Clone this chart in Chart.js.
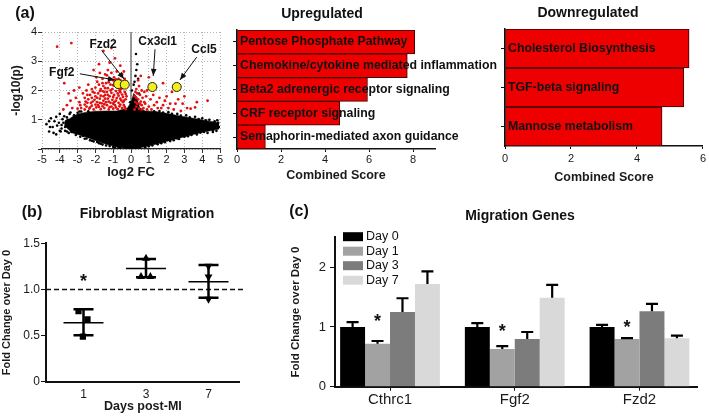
<!DOCTYPE html>
<html>
<head>
<meta charset="utf-8">
<script src="https://cdn.jsdelivr.net/npm/chart.js@4.4.1/dist/chart.umd.min.js"></script>
<style>
  body { margin:0; width:709px; height:416px; position:relative; overflow:hidden; background:#fff; font-family:"Liberation Sans", Arial, sans-serif; }
  canvas { position:absolute; }
  .lab { position:absolute; transform:translate(-50%,-50%); font-weight:bold; white-space:nowrap; color:#111; }
</style>
</head>
<body>
<canvas id="volcano" width="232" height="185" style="left:0;top:0"></canvas>
<canvas id="up" width="280" height="185" style="left:228px;top:0"></canvas>
<canvas id="down" width="229" height="185" style="left:480px;top:0"></canvas>
<canvas id="migration" width="250" height="220" style="left:0;top:196px"></canvas>
<canvas id="genes" width="420" height="220" style="left:289px;top:196px"></canvas>

<div class="lab" style="left:25px;top:13px;font-size:16px">(a)</div>
<div class="lab" style="left:322px;top:13px;font-size:14px">Upregulated</div>
<div class="lab" style="left:588px;top:12px;font-size:14px">Downregulated</div>
<div class="lab" style="left:32px;top:212px;font-size:16px">(b)</div>
<div class="lab" style="left:147px;top:213px;font-size:14px">Fibroblast Migration</div>
<div class="lab" style="left:299px;top:211px;font-size:16px">(c)</div>
<div class="lab" style="left:520px;top:215px;font-size:14px">Migration Genes</div>

<script>
// ---- (a) volcano plot ----
// dense core of the cloud: lower / upper edge at each log2 FC
const envX    = [-3.75, -3.3, -3.0, -2.5, -2.0, -1.4, -0.8, -0.2, 0.0, 0.15, 0.3, 0.5, 0.8, 1.4, 2.0, 2.75, 3.5, 4.25, 4.95];
const envHigh = [0.9, 1.1, 1.2, 1.26, 1.29, 1.3, 1.3, 1.4, 1.6, 1.9, 1.8, 1.4, 1.3, 1.28, 1.22, 1.13, 1.05, 0.97, 0.9];
const envLow  = [0.8, 0.55, 0.5, 0.4, 0.29, 0.16, 0.07, 0.02, 0.0, 0.01, 0.02, 0.04, 0.08, 0.16, 0.26, 0.38, 0.5, 0.6, 0.68];

// genes outside the core, not significant
const greyGenes = [[-4.5,1.05],[-4.6,0.95],[-4.35,0.55],[-4.2,0.5],[-4.15,0.8],[-4.0,1.2],[-3.9,0.7],[-3.8,0.9],
  [-3.75,1.12],[-3.6,0.6],[-3.55,1.0],[-3.5,0.55],[-3.45,1.2],[-3.3,0.78],[-3.2,1.15],[-3.1,0.48],[-3.0,1.24],
  [-2.85,0.42],[-2.8,1.28],[-2.6,0.35],[-2.4,1.29],[-2.3,0.3],[-2.1,0.26],[-1.9,0.24],[-1.7,0.18],[-1.4,0.12],
  [-1.2,0.1],[-0.9,0.05],[-0.6,0.03],[-0.3,0.01],[4.7,0.95],[4.8,0.62],[4.9,0.9],[4.6,0.58],[4.2,0.98],[4.3,0.55],
  [3.8,1.02],[3.7,0.5],[3.3,1.08],[3.2,0.44],[2.8,1.14],[2.7,0.34],[2.3,1.2],[2.2,0.27],[1.8,1.25],[1.7,0.2],
  [1.3,1.29],[1.2,0.12],[0.8,0.06],[0.5,0.03],[0.3,0.01],[0.2,2.3],[0.25,2.5],[0.3,2.7],[0.28,3.25],[0.35,2.9],
  [0.15,2.2],[0.4,2.4],[-0.05,1.6],[0.05,2.0],[0.45,1.9],[-4.4,0.75],[-3.95,0.6],[4.95,0.75],[4.5,0.7],
  [-3.4,1.25],[-3.2,0.65],[-2.9,1.28],[-2.7,0.45],[-2.5,0.36],[-2.2,0.28],[-1.8,0.2],[-1.6,0.15],[-1.0,0.07],
  [-0.7,0.05],[1.0,0.09],[1.5,0.16],[1.9,0.23],[2.4,0.3],[2.6,0.36],[3.0,0.42],[3.4,0.48],[3.9,0.56],[4.1,0.58],
  [4.6,0.64],[4.85,0.98],[4.4,1.0],[4.0,1.05],[3.6,1.1],[3.1,1.15],[2.6,1.2],[2.1,1.26],[1.6,1.3],[-4.2,1.1],
  [-3.9,0.82],[-4.6,0.6],[-4.75,0.85],[-3.7,0.75],[-4.3,0.95],[-4.0,0.62],[-3.65,0.95],[-3.35,0.58],[-4.55,0.75],
  [-3.85,1.02],[-3.6,1.08],[-3.7,0.62],[-4.05,0.9]];

// significant genes (p < 0.05)
const redGenes = [[-2.8,1.4],[-2.6,1.35],[-2.5,1.45],[-2.35,1.38],[-2.2,1.48],[-2.1,1.35],[-1.95,1.42],[-1.85,1.5],
  [-1.7,1.36],[-1.6,1.46],[-1.5,1.4],[-1.35,1.5],[-1.25,1.35],[-1.1,1.45],[-1.0,1.38],[-0.9,1.5],[-0.75,1.36],
  [-0.65,1.46],[-0.5,1.4],[-0.4,1.5],[-0.3,1.36],
  [-2.9,1.6],[-2.55,1.62],[-2.4,1.7],[-2.25,1.58],[-2.05,1.68],[-1.9,1.6],[-1.75,1.72],[-1.65,1.56],[-1.55,1.65],
  [-1.4,1.6],[-1.3,1.72],[-1.15,1.58],[-1.05,1.68],[-0.95,1.6],[-0.8,1.74],[-0.7,1.58],[-0.55,1.66],[-0.45,1.6],[-0.3,1.7],
  [-2.3,1.85],[-2.15,1.95],[-2.0,1.8],[-1.85,1.9],[-1.7,1.82],[-1.6,1.98],[-1.45,1.85],[-1.35,1.95],[-1.2,1.8],
  [-1.1,1.92],[-0.95,1.85],[-0.85,1.98],[-0.7,1.82],[-0.6,1.94],[-0.5,1.86],[-0.35,1.95],[-0.25,1.8],
  [-2.0,2.1],[-1.8,2.2],[-1.7,2.05],[-1.55,2.15],[-1.4,2.25],[-1.3,2.08],[-1.15,2.2],[-1.05,2.05],[-0.9,2.28],
  [-0.8,2.12],[-0.65,2.25],[-0.55,2.05],[-0.3,2.15],[-2.5,2.0],[-2.7,1.9],[-2.4,2.2],
  [-1.6,2.4],[-1.45,2.55],[-1.25,2.4],[-1.1,2.6],[-0.95,2.45],[-0.8,2.65],[-0.7,2.4],[-0.5,2.55],[-0.35,2.4],[-1.3,2.7],
  [-1.2,2.95],[-0.9,3.1],[-0.6,2.85],[-1.55,3.35],[-1.1,3.45],[-2.1,2.7],[-1.8,2.9],
  [-4.15,3.5],[-3.35,3.62],[-3.75,2.25],[-3.6,1.5],[-3.3,1.4],[-3.1,1.75],[-3.8,1.35],[-3.2,2.0],
  [-2.6,1.52],[-2.45,1.58],[-2.3,1.42],[-2.15,1.62],[-2.0,1.52],[-1.8,1.44],[-1.75,1.58],[-1.5,1.53],[-1.45,1.72],
  [-1.25,1.62],[-1.2,1.43],[-1.0,1.55],[-0.85,1.42],[-0.85,1.65],[-0.6,1.52],[-0.6,1.72],[-0.4,1.65],[-0.35,1.43],
  [-2.45,1.85],[-2.2,1.75],[-2.05,1.92],[-1.9,1.75],[-1.75,1.98],[-1.55,1.8],[-1.5,1.95],[-1.3,1.85],[-1.15,2.0],
  [-1.0,1.78],[-0.75,1.9],[-0.65,2.0],[-0.45,1.78],[-0.3,1.88],
  [-2.2,2.05],[-1.9,2.3],[-1.6,2.25],[-1.45,2.08],[-1.25,2.28],[-1.0,2.18],[-0.85,2.38],[-0.7,2.12],[-0.45,2.25],
  [-0.25,2.3],[-1.95,2.45],[-1.75,2.6],[-1.35,2.52],[-1.0,2.35],[-0.6,2.35],[-0.4,2.65],
  [-2.6,1.75],[-2.85,1.5],[-3.0,1.38],[-3.4,1.65],[-3.5,1.9],[-2.9,2.1],
  [0.2,1.35],[0.3,1.45],[0.45,1.38],[0.6,1.5],[0.25,1.6],[0.4,1.7],[0.55,1.62],[0.7,1.4],[0.2,1.8],[0.35,1.9],
  [0.5,1.85],[0.65,1.75],[0.3,2.05],[0.45,2.15],[0.6,2.0],[0.8,1.55],[0.9,1.35],[0.75,1.95],[0.4,2.35],[0.55,2.5],
  [1.0,1.45],[1.1,1.7],[1.3,1.5],[1.5,1.4],[1.6,1.75],[1.8,1.5],[2.0,1.8],[2.1,1.4],[2.3,1.95],[2.5,1.55],
  [1.0,2.45],[1.8,2.25],[3.15,1.4],[3.35,1.38],[3.6,1.42],[4.3,1.65],[2.8,1.3],[0.9,2.0],[1.4,2.1],
  [0.75,1.6],[0.85,1.8],[1.15,1.35],[1.25,1.85],[1.45,1.6],[1.7,1.4],[1.9,1.65],[2.2,1.55],[2.4,1.35],[2.65,1.7],
  [2.9,1.55],[3.0,1.8],[3.7,1.6],[0.3,1.75],[0.5,1.55],[0.25,1.95],[0.6,1.35],[0.35,1.55]];

// highlighted migration genes
const hitGenes = ['Fgf2', 'Fzd2', 'Cx3cl1', 'Ccl5'];
const hitFC    = [-0.72, -0.35, 1.2, 2.57];
const hitP     = [2.22, 2.2, 2.12, 2.12];

// label placement and arrow ends (data units)
const notes = [
  {gene:'Fgf2',   lx:-3.89, ly:2.61, fx:-2.87, fy:2.57, tx:-0.9,  ty:2.36},
  {gene:'Fzd2',   lx:-1.57, ly:3.56, fx:-1.65, fy:3.37, tx:-0.39, ty:2.39},
  {gene:'Cx3cl1', lx:1.5,   ly:3.67, fx:1.35,  fy:3.41, tx:1.25,  ty:2.5},
  {gene:'Ccl5',   lx:4.1,   ly:3.38, fx:3.69,  fy:3.14, tx:2.75,  ty:2.36}
];

// enrichment
const upTerms = ['Pentose Phosphate Pathway', 'Chemokine/cytokine mediated inflammation',
  'Beta2 adrenergic receptor signaling', 'CRF receptor signaling', 'Semaphorin-mediated axon guidance'];
const upScores = [8.08, 7.74, 5.93, 4.67, 1.29];
const downTerms = ['Cholesterol Biosynthesis', 'TGF-beta signaling', 'Mannose metabolism'];
const downScores = [5.58, 5.42, 4.76];

// ---- (b) fibroblast migration ----
const migDays = ['1', '3', '7'];
const migDay1 = [0.766, 0.676, 0.488];
const migDay3 = [1.337, 1.138, 1.138];
const migDay7 = [1.253, 1.138, 0.896];
const jitDay1 = [-0.08, 0.064, -0.01];
const jitDay3 = [0, -0.08, 0.07];
const jitDay7 = [0, 0, 0];
const migMean  = [0.639, 1.228, 1.083];
const migUpper = [0.784, 1.329, 1.264];
const migLower = [0.503, 1.131, 0.91];
const migStarDay = [0];
const migStarY = [1.14];

// ---- (c) migration genes ----
const genes = ['Cthrc1', 'Fgf2', 'Fzd2'];
const dayNames = ['Day 0', 'Day 1', 'Day 3', 'Day 7'];
const geneFold = [
  [1.0, 1.0, 1.0],
  [0.72, 0.63, 0.8],
  [1.25, 0.8, 1.262],
  [1.72, 1.49, 0.81]
];
const geneErr = [
  [0.08, 0.065, 0.035],
  [0.045, 0.05, 0.012],
  [0.23, 0.115, 0.125],
  [0.21, 0.215, 0.045]
];
const geneStarY = [1.17, 1.0, 1.07];

const dayColors = ['#000000', '#a2a2a2', '#7c7c7c', '#d9d9d9'];
const FONT = '"Liberation Sans", Arial, sans-serif';

Chart.defaults.font.family = FONT;
Chart.defaults.color = '#1a1a1a';
Chart.defaults.animation = false;
Chart.defaults.responsive = false;
Chart.defaults.plugins.legend.display = false;
Chart.defaults.plugins.tooltip.enabled = false;

function drawArrow(ctx, x0, y0, x1, y1) {
  const a = Math.atan2(y1 - y0, x1 - x0);
  ctx.beginPath(); ctx.moveTo(x0, y0); ctx.lineTo(x1, y1); ctx.stroke();
  ctx.beginPath();
  ctx.moveTo(x1, y1);
  ctx.lineTo(x1 - 7 * Math.cos(a) + 2.8 * Math.sin(a), y1 - 7 * Math.sin(a) - 2.8 * Math.cos(a));
  ctx.lineTo(x1 - 7 * Math.cos(a) - 2.8 * Math.sin(a), y1 - 7 * Math.sin(a) + 2.8 * Math.cos(a));
  ctx.closePath(); ctx.fill();
}

const volcanoNotes = {
  id: 'volcanoNotes',
  afterDatasetsDraw(chart) {
    const {ctx, scales: {x, y}} = chart;
    ctx.save();
    ctx.fillStyle = '#111'; ctx.strokeStyle = '#111'; ctx.lineWidth = 1;
    notes.forEach(n => {
      drawArrow(ctx, x.getPixelForValue(n.fx), y.getPixelForValue(n.fy), x.getPixelForValue(n.tx), y.getPixelForValue(n.ty));
    });
    ctx.font = 'bold 12px ' + FONT;
    ctx.textAlign = 'center'; ctx.textBaseline = 'middle';
    notes.forEach(n => ctx.fillText(n.gene, x.getPixelForValue(n.lx), y.getPixelForValue(n.ly)));
    ctx.restore();
  }
};

new Chart(document.getElementById('volcano'), {
  type: 'scatter',
  data: {
    datasets: [
      { type: 'line', data: envX.map((v, i) => ({x: v, y: envLow[i]})), borderColor: '#000', borderWidth: 0.5,
        pointRadius: 0, fill: false, order: 8 },
      { type: 'line', data: envX.map((v, i) => ({x: v, y: envHigh[i]})), borderColor: '#000', borderWidth: 0.5,
        pointRadius: 0, fill: '-1', backgroundColor: '#000', order: 7 },
      { data: greyGenes.map(p => ({x: p[0], y: p[1]})), backgroundColor: '#000', pointRadius: 1.3, borderWidth: 0, order: 4 },
      { data: redGenes.map(p => ({x: p[0], y: p[1]})), backgroundColor: '#e31010', pointRadius: 1.4, borderWidth: 0, order: 3 },
      { type: 'line', data: [{x: 0, y: 0}, {x: 0, y: 4}], borderColor: '#777', borderWidth: 1.5, pointRadius: 0, order: 9 },
      { data: hitFC.map((v, i) => ({x: v, y: hitP[i]})), backgroundColor: '#f4ee1a', borderColor: '#222',
        borderWidth: 1, pointRadius: 4.5, order: 1 }
    ]
  },
  options: {
    layout: { padding: { top: 32, right: 12 } },
    scales: {
      x: {
        type: 'linear', min: -5, max: 5,
        afterFit: s => { s.height = 36; },
        ticks: { stepSize: 1, autoSkip: false, maxRotation: 0, padding: 0, font: { size: 11 } },
        grid: { color: '#b5b5b5', tickLength: 4, tickColor: '#333', tickBorderDash: [] },
        border: { color: '#222', width: 1.2, dash: [1, 2] },
        title: { display: true, text: 'log2 FC', font: { size: 13, weight: 'bold' }, padding: { top: 0, bottom: 5 } }
      },
      y: {
        min: 0, max: 4,
        afterFit: s => { s.width = 42; },
        ticks: { stepSize: 1, padding: 1, font: { size: 11 }, callback: v => v === 0 ? '' : v },
        grid: { color: '#b5b5b5', tickLength: 4, tickColor: '#333', tickBorderDash: [] },
        border: { display: false, dash: [1, 2] },
        title: { display: true, text: '-log10(p)', font: { size: 12, weight: 'bold' }, padding: { top: 9, bottom: 0 } }
      }
    }
  },
  plugins: [volcanoNotes]
});

// term names written inside the bars
const barText = {
  id: 'barText',
  afterDatasetsDraw(chart) {
    const ctx = chart.ctx;
    ctx.save();
    ctx.font = 'bold 12.3px ' + FONT;
    ctx.fillStyle = '#111'; ctx.textBaseline = 'middle';
    chart.getDatasetMeta(0).data.forEach((bar, i) => ctx.fillText(chart.data.labels[i], chart.chartArea.left + 3, bar.y));
    ctx.restore();
  }
};

function enrichment(id, terms, scores, max, yWidth, padTop, padRight, xHeight, tickPad, titlePad) {
  return new Chart(document.getElementById(id), {
    type: 'bar',
    data: { labels: terms, datasets: [{ data: scores, backgroundColor: '#ee0000', borderColor: '#3a0000', borderWidth: 1,
      borderSkipped: false, categoryPercentage: 1, barPercentage: 1 }] },
    options: {
      indexAxis: 'y',
      layout: { padding: { top: padTop, right: padRight } },
      scales: {
        x: {
          min: 0, max: max,
          afterFit: s => { s.height = xHeight; },
          ticks: { stepSize: 2, includeBounds: false, padding: tickPad, font: { size: 11 } },
          grid: { drawOnChartArea: false, tickLength: 3, tickColor: '#111' },
          border: { color: '#111', width: 1.5 },
          title: { display: true, text: 'Combined Score', font: { size: 12.5, weight: 'bold' }, padding: { top: 0, bottom: titlePad } }
        },
        y: {
          afterFit: s => { s.width = yWidth; },
          ticks: { display: false },
          grid: { drawOnChartArea: false, offset: false, tickLength: 4, tickColor: '#111' },
          border: { color: '#111', width: 1.5 }
        }
      }
    },
    plugins: [barText]
  });
}
enrichment('up', upTerms, upScores, 9, 9, 30, 73, 36, 1, 2);
enrichment('down', downTerms, downScores, 6, 25, 29, 6, 39, 3, 0);

// asterisks
function star(ctx, px, py) {
  ctx.save();
  ctx.font = 'bold 18px ' + FONT;
  ctx.fillStyle = '#111'; ctx.textAlign = 'center'; ctx.textBaseline = 'alphabetic';
  ctx.fillText('*', px, py + 10);
  ctx.restore();
}

// mean line and error bars for (b)
const meanSd = {
  id: 'meanSd',
  afterDatasetsDraw(chart) {
    const {ctx, scales: {x, y}} = chart;
    ctx.save();
    ctx.strokeStyle = '#000';
    migMean.forEach((m, i) => {
      const cx = x.getPixelForValue(i);
      const ym = y.getPixelForValue(m), yu = y.getPixelForValue(migUpper[i]), yl = y.getPixelForValue(migLower[i]);
      ctx.lineWidth = 1.5;
      ctx.beginPath(); ctx.moveTo(cx - 20, ym); ctx.lineTo(cx + 20, ym); ctx.stroke();
      ctx.lineWidth = 2.5;
      ctx.beginPath();
      ctx.moveTo(cx, yu); ctx.lineTo(cx, yl);
      ctx.moveTo(cx - 10, yu); ctx.lineTo(cx + 10, yu);
      ctx.moveTo(cx - 10, yl); ctx.lineTo(cx + 10, yl);
      ctx.stroke();
    });
    ctx.restore();
    migStarDay.forEach((d, i) => star(ctx, x.getPixelForValue(d), y.getPixelForValue(migStarY[i])));
  }
};

new Chart(document.getElementById('migration'), {
  type: 'scatter',
  data: {
    datasets: [
      { data: migDay1.map((v, i) => ({x: 0 + jitDay1[i], y: v})), pointStyle: 'rect', pointRadius: 4.4, backgroundColor: '#000', borderWidth: 0 },
      { data: migDay3.map((v, i) => ({x: 1 + jitDay3[i], y: v})), pointStyle: 'triangle', pointRadius: 4.6, backgroundColor: '#000', borderWidth: 0 },
      { data: migDay7.map((v, i) => ({x: 2 + jitDay7[i], y: v})), pointStyle: 'triangle', pointRotation: 180, pointRadius: 4.6, backgroundColor: '#000', borderWidth: 0 },
      { type: 'line', data: [{x: -0.6, y: 1}, {x: 2.58, y: 1}], borderColor: '#111', borderWidth: 1.5, borderDash: [5, 3],
        pointRadius: 0, clip: false }
    ]
  },
  options: {
    layout: { padding: { top: 47.3, right: 10.25 } },
    scales: {
      x: {
        type: 'linear', min: -0.6, max: 2.5,
        afterFit: s => { s.height = 34.3; },
        ticks: { stepSize: 1, includeBounds: false, autoSkip: false, padding: 6, font: { size: 12 },
                 callback: v => migDays[v] ?? '' },
        grid: { display: true, drawOnChartArea: false, drawTicks: false },
        border: { color: '#111', width: 2 },
        title: { display: true, text: 'Days post-MI', font: { size: 12.5, weight: 'bold' }, padding: { top: 0, bottom: 2 } }
      },
      y: {
        min: 0, max: 1.5,
        afterFit: s => { s.width = 46; },
        ticks: { stepSize: 0.5, padding: 1, font: { size: 12 }, callback: v => v === 0 ? '0' : v.toFixed(1) },
        grid: { drawOnChartArea: false, tickLength: 5, tickColor: '#111' },
        border: { color: '#111', width: 2 },
        title: { display: true, text: 'Fold Change over Day 0', font: { size: 11, weight: 'bold' }, padding: { top: 0, bottom: 0 } }
      }
    }
  },
  plugins: [meanSd]
});

// upper error bars, stars and legend for (c)
const geneExtras = {
  id: 'geneExtras',
  afterDatasetsDraw(chart) {
    const {ctx, chartArea, scales: {y}} = chart;
    ctx.save();
    ctx.strokeStyle = '#000'; ctx.lineWidth = 2.2;
    geneFold.forEach((vals, k) => {
      chart.getDatasetMeta(k).data.forEach((bar, i) => {
        const yt = y.getPixelForValue(vals[i] + geneErr[k][i]);
        ctx.beginPath();
        ctx.moveTo(bar.x, bar.y); ctx.lineTo(bar.x, yt);
        ctx.moveTo(bar.x - 6, yt); ctx.lineTo(bar.x + 6, yt);
        ctx.stroke();
      });
    });
    ctx.restore();
    chart.getDatasetMeta(1).data.forEach((bar, i) => star(ctx, bar.x, y.getPixelForValue(geneStarY[i])));
    // legend
    ctx.save();
    ctx.font = '12.5px ' + FONT; ctx.textBaseline = 'middle';
    chart.data.datasets.forEach((ds, k) => {
      const yy = chartArea.top - 0.6 + k * 14.5;
      ctx.fillStyle = ds.backgroundColor;
      ctx.fillRect(chartArea.left + 8, yy - 4.5, 20, 9);
      ctx.fillStyle = '#111';
      ctx.fillText(ds.label, chartArea.left + 31, yy);
    });
    ctx.restore();
  }
};

new Chart(document.getElementById('genes'), {
  type: 'bar',
  data: {
    datasets: dayNames.map((d, k) => ({
      label: d, data: geneFold[k].map((v, i) => ({x: i, y: v})), backgroundColor: dayColors[k],
      borderWidth: 0, categoryPercentage: 0.8, barPercentage: 1
    }))
  },
  options: {
    layout: { padding: { top: 41.3, right: 12 } },
    scales: {
      x: {
        type: 'linear', min: -0.441, max: 2.461, offset: false,
        afterFit: s => { s.height = 29.3; },
        ticks: { stepSize: 1, includeBounds: false, autoSkip: false, padding: 0, font: { size: 15 },
                 callback: v => genes[v] ?? '' },
        grid: { drawOnChartArea: false, offset: false, tickLength: 4, tickColor: '#111' },
        border: { color: '#111', width: 2 }
      },
      y: {
        min: 0, max: 2.5,
        afterFit: s => { s.width = 46; },
        ticks: { stepSize: 1, includeBounds: false, padding: 4, font: { size: 13 } },
        grid: { drawOnChartArea: false, tickLength: 5, tickColor: '#111' },
        border: { color: '#111', width: 2 },
        title: { display: true, text: 'Fold Change over Day 0', font: { size: 11.5, weight: 'bold' }, padding: { top: 0, bottom: 0 } }
      }
    }
  },
  plugins: [geneExtras]
});
</script>
</body>
</html>
